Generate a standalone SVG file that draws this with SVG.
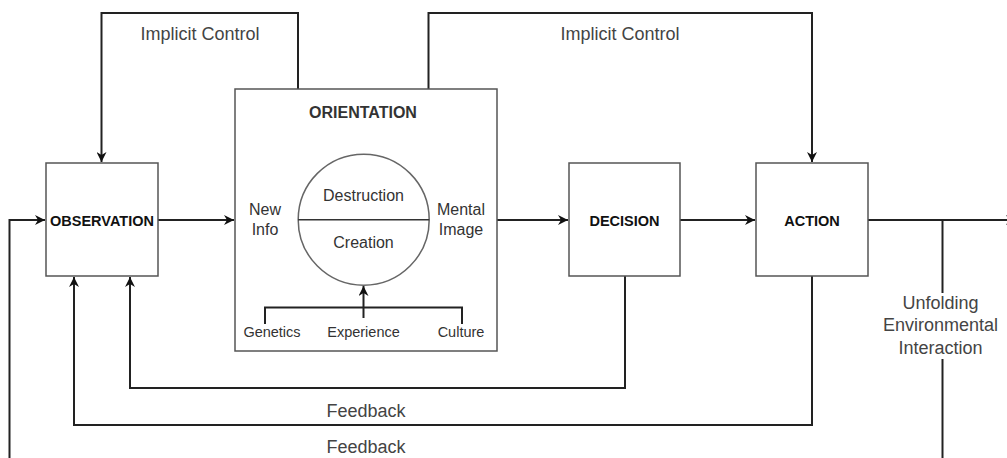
<svg xmlns="http://www.w3.org/2000/svg" width="1007" height="458" viewBox="0 0 1007 458">
  <style>
    .box { fill: #ffffff; stroke: #555555; stroke-width: 1.5; }
    .circle { fill: #ffffff; stroke: #666666; stroke-width: 1.5; }
    .wire { fill: none; stroke: #222222; stroke-width: 2; }
    .title { font-family: "Liberation Sans", Arial, sans-serif; font-weight: bold; font-size: 14.5px; fill: #111111; text-anchor: middle; }
    .inner { font-family: "Liberation Sans", Arial, sans-serif; font-size: 16px; fill: #333333; text-anchor: middle; }
    .small { font-family: "Liberation Sans", Arial, sans-serif; font-size: 14.5px; fill: #333333; text-anchor: middle; }
    .label { font-family: "Liberation Sans", Arial, sans-serif; font-size: 18px; fill: #444444; text-anchor: middle; }
  </style>
  <defs>
    <marker id="arrow" viewBox="0 0 10 10" refX="10" refY="5" markerWidth="10" markerHeight="10" markerUnits="userSpaceOnUse" orient="auto">
      <path d="M0,0 L10,5 L0,10 L3,5 Z" fill="#111111"/>
    </marker>
  </defs>

  <rect width="1007" height="458" fill="#ffffff"/>

  <!-- connectors -->
  <g id="connectors">
    <!-- implicit control loops -->
    <path class="wire" d="M298,89 V13 H101.5 V162" marker-end="url(#arrow)"/>
    <path class="wire" d="M428.5,89 V13 H812 V162" marker-end="url(#arrow)"/>
    <!-- main forward flow -->
    <path class="wire" d="M158,220 H234" marker-end="url(#arrow)"/>
    <path class="wire" d="M497,220 H568" marker-end="url(#arrow)"/>
    <path class="wire" d="M680,220 H755" marker-end="url(#arrow)"/>
    <path class="wire" d="M868,220 H1016" marker-end="url(#arrow)"/>
    <!-- unfolding interaction loop back to observation -->
    <path class="wire" d="M942.5,220 V458"/>
    <path class="wire" d="M9.5,458 V220 H45" marker-end="url(#arrow)"/>
    <!-- feedback loops -->
    <path class="wire" d="M625,276 V388 H130 V277" marker-end="url(#arrow)"/>
    <path class="wire" d="M812,276 V425 H74 V277" marker-end="url(#arrow)"/>
    <text class="label" x="200" y="40">Implicit Control</text>
    <text class="label" x="620" y="40">Implicit Control</text>
    <text class="label" x="366" y="416.5">Feedback</text>
    <text class="label" x="366" y="453">Feedback</text>
    <g id="unfolding-label">
      <rect x="881" y="293" width="120" height="66" fill="#ffffff"/>
      <text class="label" x="940.5" y="308.5">Unfolding</text>
      <text class="label" x="940.5" y="331">Environmental</text>
      <text class="label" x="940.5" y="353.5">Interaction</text>
    </g>
  </g>

  <g id="observation">
    <rect class="box" x="46" y="163" width="112" height="113"/>
    <text class="title" x="102" y="225.5">OBSERVATION</text>
  </g>

  <g id="orientation">
    <rect class="box" x="235" y="89" width="262" height="262"/>
    <text class="inner" x="363" y="117.5" font-weight="bold" fill="#111111">ORIENTATION</text>
    <circle class="circle" cx="363.7" cy="219.7" r="65.5"/>
    <line x1="298.2" y1="219.7" x2="429.2" y2="219.7" stroke="#333333" stroke-width="1.5"/>
    <text class="inner" x="363.5" y="200.5">Destruction</text>
    <text class="inner" x="363.5" y="248">Creation</text>
    <text class="inner" x="265" y="214.5">New</text>
    <text class="inner" x="265" y="235">Info</text>
    <text class="inner" x="461" y="214.5">Mental</text>
    <text class="inner" x="461" y="235">Image</text>
    <!-- influences feeding the circle -->
    <path class="wire" d="M265,324 V307.5 H462 V324"/>
    <path class="wire" d="M363.5,318 V286" marker-end="url(#arrow)"/>
    <text class="small" x="272" y="336.5">Genetics</text>
    <text class="small" x="363.5" y="336.5">Experience</text>
    <text class="small" x="461" y="336.5">Culture</text>
  </g>

  <g id="decision">
    <rect class="box" x="569" y="163" width="111" height="113"/>
    <text class="title" x="624.5" y="225.5">DECISION</text>
  </g>

  <g id="action">
    <rect class="box" x="756" y="163" width="112" height="113"/>
    <text class="title" x="812" y="225.5">ACTION</text>
  </g>
</svg>
